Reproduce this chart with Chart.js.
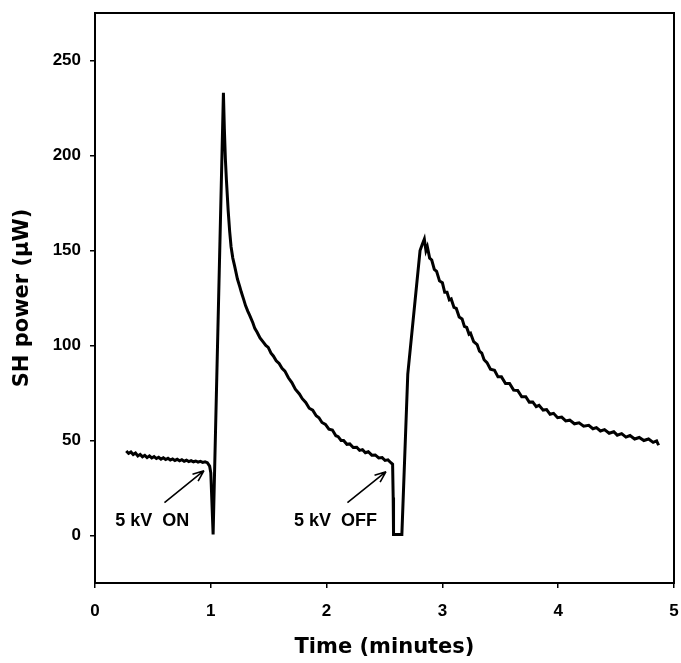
<!DOCTYPE html>
<html>
<head>
<meta charset="utf-8">
<script src="https://cdn.jsdelivr.net/npm/chart.js@4.4.0/dist/chart.umd.min.js"></script>
<style>
  html, body { margin: 0; padding: 0; background: #fff; }
  canvas { display: block; }
</style>
</head>
<body>
<canvas id="shChart" width="681" height="663"></canvas>
<script>
// time in minutes, SH power in microwatts
const timeMin = [
  0.27, 0.29, 0.31, 0.33, 0.35, 0.37, 0.39, 0.41, 0.43, 0.45,
  0.47, 0.49, 0.51, 0.53, 0.55, 0.57, 0.59, 0.61, 0.63, 0.65,
  0.67, 0.69, 0.71, 0.73, 0.75, 0.77, 0.79, 0.81, 0.83, 0.85,
  0.87, 0.89, 0.91, 0.93, 0.95, 0.97, 0.99, 1.00, 1.01, 1.02,
  1.109, 1.117, 1.126, 1.135, 1.15, 1.163, 1.175, 1.19, 1.205, 1.23,
  1.25, 1.264, 1.285, 1.30, 1.32, 1.335, 1.363, 1.38, 1.40, 1.425,
  1.45, 1.475, 1.496, 1.52, 1.54, 1.565, 1.59, 1.615, 1.64, 1.67,
  1.70, 1.73, 1.765, 1.79, 1.82, 1.85, 1.88, 1.91, 1.934, 1.96,
  1.99, 2.02, 2.05, 2.08, 2.10, 2.125, 2.147, 2.175, 2.20, 2.23,
  2.26, 2.285, 2.31, 2.335, 2.36, 2.39, 2.42, 2.45, 2.48, 2.505,
  2.53, 2.555, 2.57, 2.575, 2.578, 2.65,
  2.701, 2.807, 2.825, 2.844, 2.858, 2.87, 2.89, 2.908, 2.93, 2.95,
  2.975, 3.00, 3.02, 3.04, 3.06, 3.076, 3.10, 3.12, 3.145, 3.17,
  3.19, 3.21, 3.23, 3.243, 3.27, 3.30, 3.32, 3.34, 3.36, 3.385,
  3.415, 3.45, 3.48, 3.51, 3.545, 3.58, 3.615, 3.65, 3.685, 3.72,
  3.75, 3.78, 3.81, 3.835, 3.87, 3.90, 3.93, 3.96, 3.995, 4.03,
  4.065, 4.10, 4.14, 4.18, 4.22, 4.264, 4.30, 4.33, 4.365, 4.40,
  4.44, 4.48, 4.51, 4.548, 4.585, 4.62, 4.66, 4.70, 4.74, 4.78,
  4.82, 4.85, 4.867
];
const shPower = [
  44.5, 43.2, 44.0, 42.6, 43.4, 41.9, 42.7, 41.4, 42.2, 41.0,
  41.9, 40.8, 41.5, 40.5, 41.2, 40.2, 40.9, 40.0, 40.6, 39.7,
  40.3, 39.5, 40.1, 39.3, 39.9, 39.1, 39.6, 38.9, 39.4, 38.8,
  39.2, 38.6, 39.0, 38.5, 38.8, 38.3, 36.5, 33, 17, 0.5,
  233, 214, 198, 187, 171, 160, 152, 146, 142, 135,
  131, 128, 124, 121, 118, 116, 112, 109, 107, 104,
  102, 100, 99, 96, 94.5, 92, 90.5, 88, 86.5, 83,
  80.5, 77, 74.5, 72, 70, 67, 66, 63, 62, 59.5,
  58.5, 56, 55.5, 52.5, 52, 50, 50, 48, 48.2, 46.3,
  46.4, 44.8, 45.2, 43.6, 44.1, 42.3, 42.4, 40.8, 41.0, 39.5,
  39.8, 38.3, 37.5, 20, 0.5, 0.5,
  85, 150, 153, 156, 150, 152, 146, 145, 140, 139,
  134, 133, 128, 128, 124, 124.5, 120, 119.5, 115, 114,
  110, 109.5, 106, 106.5, 102, 100.5, 97, 96, 92.5, 91,
  87.5, 87, 83.5, 83.5, 80, 80, 76.5, 76.3, 73, 73,
  70.2, 70.3, 67.8, 68.5, 66, 66.3, 63.8, 64.3, 62, 62.3,
  60.3, 60.7, 58.8, 59.3, 57.5, 58, 56.2, 56.8, 55, 55.7,
  53.8, 54.6, 52.8, 53.6, 51.8, 52.6, 50.8, 51.6, 50, 50.8,
  49, 49.8, 47.5
];
const xTicks = [0, 1, 2, 3, 4, 5];
const yTicks = [0, 50, 100, 150, 200, 250];

// event labels with arrows, placed in data units
const eventText = ['5 kV  ON', '5 kV  OFF'];
const eventTextAt = [[0.174, 7.5], [1.719, 7.5]];
const arrowFrom = [[0.600, 17.3], [2.180, 17.3]];
const arrowTo = [[0.941, 34.1], [2.513, 33.6]];

const frame = {
    id: 'frame',
    afterDraw(chart) {
        const {ctx, chartArea: a} = chart;
        ctx.save();
        ctx.strokeStyle = '#000';
        ctx.lineWidth = 2;
        ctx.strokeRect(a.left, a.top, a.right - a.left, a.bottom - a.top);
        ctx.restore();
    }
};

const events = {
    id: 'events',
    afterDatasetsDraw(chart) {
        const {ctx, scales: {x, y}} = chart;
        ctx.save();
        ctx.fillStyle = '#000';
        ctx.strokeStyle = '#000';
        ctx.font = 'bold 18px "Liberation Sans", Arial, sans-serif';
        ctx.textAlign = 'left';
        ctx.textBaseline = 'middle';
        eventText.forEach((txt, i) => {
            ctx.fillText(txt, x.getPixelForValue(eventTextAt[i][0]), y.getPixelForValue(eventTextAt[i][1]));

            const tx = x.getPixelForValue(arrowFrom[i][0]);
            const ty = y.getPixelForValue(arrowFrom[i][1]);
            const hx = x.getPixelForValue(arrowTo[i][0]);
            const hy = y.getPixelForValue(arrowTo[i][1]);
            const ang = Math.atan2(hy - ty, hx - tx);
            ctx.lineWidth = 1.6;
            ctx.beginPath();
            ctx.moveTo(tx, ty);
            ctx.lineTo(hx, hy);
            [0.38, -0.38].forEach(d => {
                ctx.moveTo(hx, hy);
                ctx.lineTo(hx - 12 * Math.cos(ang + d), hy - 12 * Math.sin(ang + d));
            });
            ctx.stroke();
        });
        ctx.restore();
    }
};

const tickFont = { family: '"Liberation Sans", Arial, sans-serif', size: 17, weight: 'bold' };
const titleFont = { family: '"DejaVu Sans", Verdana, sans-serif', size: 21, weight: 'bold' };

new Chart(document.getElementById('shChart'), {
    type: 'line',
    data: {
        datasets: [{
            data: timeMin.map((t, i) => ({ x: t, y: shPower[i] })),
            borderColor: '#000',
            borderWidth: 3,
            pointRadius: 0,
            tension: 0,
            fill: false
        }]
    },
    options: {
        responsive: false,
        animation: false,
        layout: { padding: { top: 13, right: 7, left: 0, bottom: 0 } },
        plugins: {
            legend: { display: false },
            tooltip: { enabled: false }
        },
        scales: {
            x: {
                type: 'linear',
                min: 0,
                max: 5,
                afterBuildTicks: scale => { scale.ticks = xTicks.map(v => ({ value: v })); },
                afterFit: scale => {
                    scale.height = 80;
                    scale.paddingLeft = 0;
                    scale.paddingRight = 0;
                },
                grid: { drawOnChartArea: false, drawTicks: true, tickLength: 5, color: '#000', lineWidth: 1.5 },
                border: { display: false },
                ticks: { color: '#000', font: tickFont, padding: 13, maxRotation: 0 },
                title: { display: true, text: 'Time (minutes)', color: '#000', font: titleFont, padding: { top: 0, bottom: 3 } }
            },
            y: {
                min: -25,
                max: 275,
                afterBuildTicks: scale => { scale.ticks = yTicks.map(v => ({ value: v })); },
                afterFit: scale => {
                    scale.width = 95;
                    scale.paddingTop = 0;
                    scale.paddingBottom = 0;
                },
                grid: { drawOnChartArea: false, drawTicks: true, tickLength: 5, color: '#000', lineWidth: 1.5 },
                border: { display: false },
                ticks: { color: '#000', font: tickFont, padding: 9 },
                title: { display: true, text: 'SH power (\u03bcW)', color: '#000', font: titleFont, padding: { top: 10, bottom: 0 } }
            }
        }
    },
    plugins: [frame, events]
});
</script>
</body>
</html>
